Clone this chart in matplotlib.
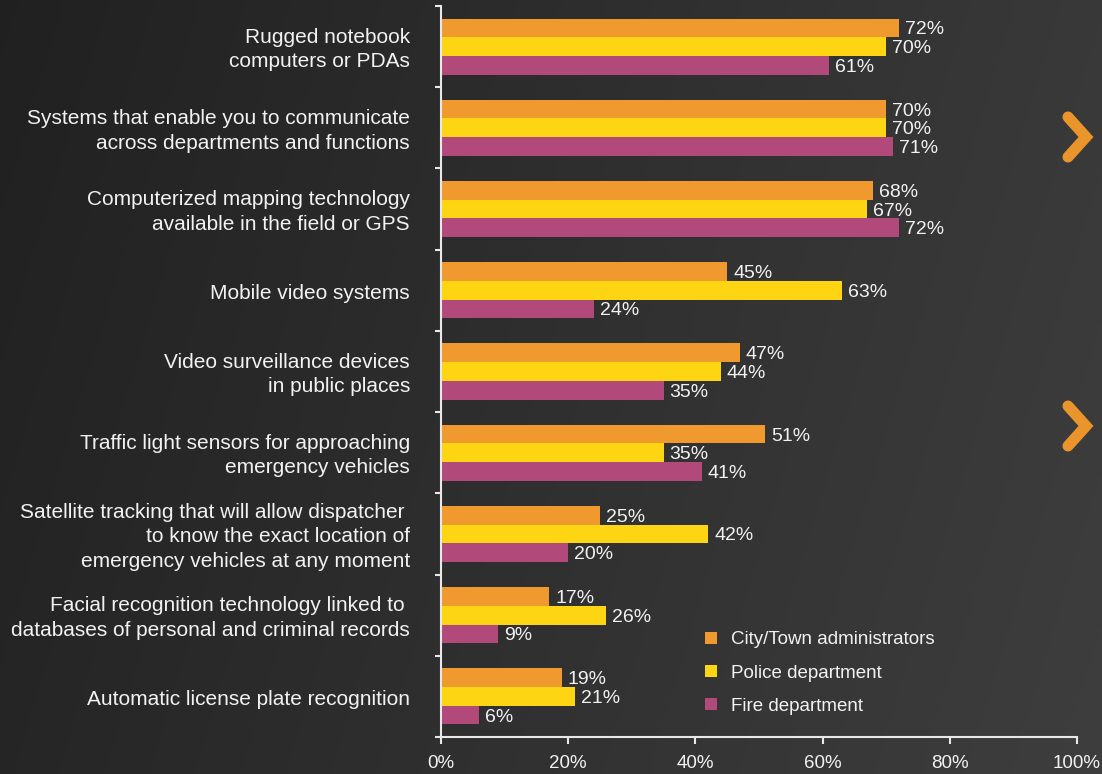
import numpy as np
import matplotlib
matplotlib.use("Agg")
import matplotlib.pyplot as plt
from matplotlib.patches import Patch

plt.rcParams['font.family'] = ['Liberation Sans', 'DejaVu Sans']

categories = [
    "Rugged notebook\ncomputers or PDAs",
    "Systems that enable you to communicate\nacross departments and functions",
    "Computerized mapping technology\navailable in the field or GPS",
    "Mobile video systems",
    "Video surveillance devices\nin public places",
    "Traffic light sensors for approaching\nemergency vehicles",
    "Satellite tracking that will allow dispatcher \nto know the exact location of\nemergency vehicles at any moment",
    "Facial recognition technology linked to \ndatabases of personal and criminal records",
    "Automatic license plate recognition",
]
series_names = ["City/Town administrators", "Police department", "Fire department"]
city = [72, 70, 68, 45, 47, 51, 25, 17, 19]
police = [70, 70, 67, 63, 44, 35, 42, 26, 21]
fire = [61, 71, 72, 24, 35, 41, 20, 9, 6]
x_ticks = [0, 20, 40, 60, 80, 100]
x_tick_labels = ["0%", "20%", "40%", "60%", "80%", "100%"]

colors = ["#F0992E", "#FDD512", "#B2497B"]
text_color = "#F2F2F2"

W, H = 1102, 774
fig = plt.figure(figsize=(W / 100, H / 100), dpi=100)

# background gradient
bg = fig.add_axes([0, 0, 1, 1], zorder=-10)
xx, yy = np.meshgrid(np.linspace(0, 1, 300), np.linspace(0, 1, 200))
val = 0.128 + 0.095 * xx + 0.02 * yy
bg.imshow(np.dstack([val, val, val]), extent=[0, 1, 0, 1], aspect='auto', origin='upper')
bg.set_axis_off()

ax = fig.add_axes([441 / W, 37 / H, 636 / W, 731 / H])
ax.patch.set_alpha(0)

n = len(categories)
y = np.arange(n)
h = 0.23
for vals, off, c in zip([city, police, fire], [-h, 0, h], colors):
    ax.barh(y + off, vals, height=h, color=c, edgecolor='none')
    for yi, v in zip(y + off, vals):
        ax.annotate(f"{v}%", (v, yi), xytext=(6, -2), textcoords='offset pixels',
                    va='center', ha='left', color=text_color, fontsize=14)

ax.set_xlim(0, 100)
ax.set_ylim(n - 0.5, -0.5)
ax.set_xticks(x_ticks)
ax.set_xticklabels(x_tick_labels, color=text_color, fontsize=13.5)
ax.set_yticks(np.arange(-0.5, n, 1.0))
ax.set_yticklabels([])
for i, lab in enumerate(categories):
    ax.annotate(lab, (0, i), xytext=(-31, -3), textcoords='offset pixels',
                ha='right', va='center', color=text_color,
                fontsize=15, linespacing=1.36, annotation_clip=False)

for s in ['top', 'right']:
    ax.spines[s].set_visible(False)
for s in ['left', 'bottom']:
    ax.spines[s].set_color('#E8E8E8')
    ax.spines[s].set_linewidth(1.5)
ax.tick_params(axis='x', direction='out', length=5, width=1.5, color='#E8E8E8', pad=8)
ax.tick_params(axis='y', direction='out', length=4, width=1.5, color='#E8E8E8')

handles = [Patch(facecolor=c, edgecolor='none') for c in colors]
leg = ax.legend(handles, series_names, loc='upper left', bbox_to_anchor=(256 / 636, 1 - (624 - 6) / 731),
                frameon=False, fontsize=13.5, handlelength=0.65, handleheight=0.65,
                labelspacing=0.86, handletextpad=0.75, borderaxespad=0)
for t in leg.get_texts():
    t.set_color(text_color)

# chevrons
for cy in [137, 426]:
    xs = np.array([1068, 1086, 1068]) / W
    ys = 1 - np.array([cy - 20, cy, cy + 20]) / H
    fig.add_artist(plt.Line2D(xs, ys, color='#EA942C', linewidth=8,
                              solid_capstyle='round', solid_joinstyle='miter',
                              transform=fig.transFigure))

fig.savefig("out.png", dpi=100)
